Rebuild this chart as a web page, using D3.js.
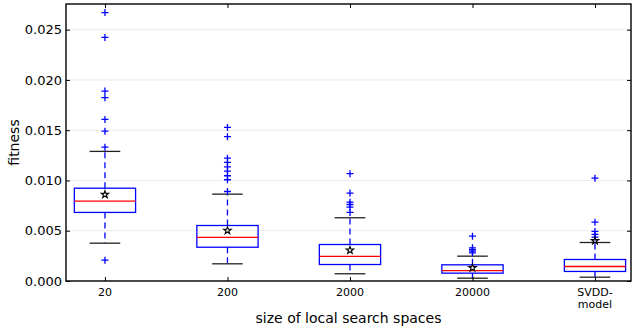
<!DOCTYPE html>
<html>
<head>
<meta charset="utf-8">
<script src="https://cdn.jsdelivr.net/npm/d3@7"></script>
<style>
html,body{margin:0;padding:0;background:#fff;}
svg{display:block;font-family:"DejaVu Sans",sans-serif;}
</style>
</head>
<body>
<svg id="chart" width="633" height="331"></svg>
<script>
const categories = ["20", "200", "2000", "20000", "SVDD-\nmodel"];
const q1 = [0.00682, 0.00336, 0.00164, 0.00078, 0.00095];
const medians = [0.00794, 0.00433, 0.00244, 0.00104, 0.00144];
const q3 = [0.00923, 0.00552, 0.00363, 0.00161, 0.00214];
const whiskerLow = [0.00376, 0.00171, 0.00072, 0.00028, 0.00038];
const whiskerHigh = [0.01289, 0.00864, 0.00629, 0.00247, 0.00383];
const means = [0.0086, 0.00502, 0.00306, 0.00131, 0.0040];
const outliers = [
  [0.0267, 0.02423, 0.01889, 0.01823, 0.01607, 0.0149, 0.01331, 0.00207],
  [0.01527, 0.01435, 0.01222, 0.01179, 0.01136, 0.01093, 0.01047, 0.01007, 0.0089],
  [0.01067, 0.00874, 0.00784, 0.00761, 0.00734, 0.00682],
  [0.00446, 0.0033, 0.00313, 0.00297, 0.0028],
  [0.01023, 0.00585, 0.00493, 0.00463, 0.00436]
];
const yTicks = [0.000, 0.005, 0.010, 0.015, 0.020, 0.025];
const xLabel = "size of local search spaces";
const yLabel = "fitness";

const svg = d3.select("#chart");
const L = 66, R = 631, T = 4, B = 281;
const x = d3.scaleLinear().domain([0.682, 5.294]).range([L, R]);
const y = d3.scaleLinear().domain([0, 0.02755]).range([B, T]);

// grid
svg.append("g").selectAll("line").data(yTicks).join("line")
  .attr("x1", L).attr("x2", R)
  .attr("y1", d => y(d)).attr("y2", d => y(d))
  .attr("stroke", "#ebebeb").attr("stroke-width", 1);

const boxW = 0.5, capW = 0.25;
const data = categories.map((c, i) => ({i, pos: i + 1}));
const g = svg.append("g");

data.forEach(d => {
  const i = d.i, p = d.pos;
  g.append("line").attr("x1", x(p)).attr("x2", x(p))
    .attr("y1", y(q3[i])).attr("y2", y(whiskerHigh[i]))
    .attr("stroke", "#0000ff").attr("stroke-width", 1.3).attr("stroke-dasharray", "6,4");
  g.append("line").attr("x1", x(p)).attr("x2", x(p))
    .attr("y1", y(q1[i])).attr("y2", y(whiskerLow[i]))
    .attr("stroke", "#0000ff").attr("stroke-width", 1.3).attr("stroke-dasharray", "6,4");
  [whiskerHigh[i], whiskerLow[i]].forEach(v => {
    g.append("line").attr("x1", x(p - capW / 2)).attr("x2", x(p + capW / 2))
      .attr("y1", y(v)).attr("y2", y(v))
      .attr("stroke", "#222").attr("stroke-width", 1.3);
  });
  g.append("rect").attr("x", x(p - boxW / 2)).attr("y", y(q3[i]))
    .attr("width", x(p + boxW / 2) - x(p - boxW / 2))
    .attr("height", y(q1[i]) - y(q3[i]))
    .attr("fill", "none").attr("stroke", "#0000ff").attr("stroke-width", 1.3);
  g.append("line").attr("x1", x(p - boxW / 2)).attr("x2", x(p + boxW / 2))
    .attr("y1", y(medians[i])).attr("y2", y(medians[i]))
    .attr("stroke", "#ff0000").attr("stroke-width", 1.3);
  outliers[i].forEach(v => {
    g.append("path")
      .attr("d", `M${x(p) - 3.5},${y(v)}h7M${x(p)},${y(v) - 3.5}v7`)
      .attr("stroke", "#0000ff").attr("stroke-width", 1.3).attr("fill", "none");
  });
  g.append("path")
    .attr("d", d3.symbol(d3.symbolStar, 17)())
    .attr("transform", `translate(${x(p)},${y(means[i])})`)
    .attr("fill", "none").attr("stroke", "#000").attr("stroke-width", 1.1);
});

// frame
svg.append("rect").attr("x", L).attr("y", T).attr("width", R - L).attr("height", B - T)
  .attr("fill", "none").attr("stroke", "#000").attr("stroke-width", 1.4);

const yAxisL = d3.axisLeft(y).tickValues(yTicks).tickFormat(d3.format(".3f")).tickSizeInner(-4).tickSizeOuter(0).tickPadding(4);
const ga = svg.append("g").attr("transform", `translate(${L},0)`).call(yAxisL);
ga.select(".domain").remove();
ga.selectAll("text").attr("font-size", 13).attr("fill", "#000").attr("font-family", "DejaVu Sans");
ga.selectAll("line").attr("stroke", "#000");
const yAxisR = d3.axisRight(y).tickValues(yTicks).tickFormat("").tickSizeInner(-4).tickSizeOuter(0);
const gr = svg.append("g").attr("transform", `translate(${R},0)`).call(yAxisR);
gr.select(".domain").remove();

const xAxisB = d3.axisBottom(x).tickValues([1, 2, 3, 4, 5]).tickFormat("").tickSizeInner(-4).tickSizeOuter(0);
const gb = svg.append("g").attr("transform", `translate(0,${B})`).call(xAxisB);
gb.select(".domain").remove();
const xAxisT = d3.axisTop(x).tickValues([1, 2, 3, 4, 5]).tickFormat("").tickSizeInner(-4).tickSizeOuter(0);
const gt = svg.append("g").attr("transform", `translate(0,${T})`).call(xAxisT);
gt.select(".domain").remove();

categories.forEach((c, i) => {
  const lines = c.split("\n");
  const t = svg.append("text").attr("x", x(i + 1)).attr("y", B + 15)
    .attr("text-anchor", "middle").attr("font-size", 11).attr("fill", "#000");
  lines.forEach((ln, k) => {
    t.append("tspan").attr("x", x(i + 1)).attr("dy", k === 0 ? 0 : 12).text(ln);
  });
});

svg.append("text").attr("x", (L + R) / 2).attr("y", 323)
  .attr("text-anchor", "middle").attr("font-size", 14).attr("fill", "#000").text(xLabel);
svg.append("text").attr("transform", `translate(19,${(T + B) / 2}) rotate(-90)`)
  .attr("text-anchor", "middle").attr("font-size", 14).attr("fill", "#000").text(yLabel);
</script>
</body>
</html>
